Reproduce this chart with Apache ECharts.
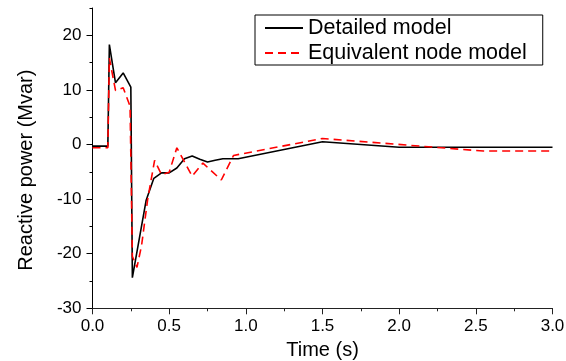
<!DOCTYPE html>
<html>
<head>
<meta charset="utf-8">
<script src="https://cdn.jsdelivr.net/npm/echarts@6/dist/echarts.min.js"></script>
<style>
html,body{margin:0;padding:0;background:#fff;}
#chart{width:566px;height:361px;}
</style>
</head>
<body>
<div id="chart"></div>
<script>
// Detailed model (black solid)
const detailedTime  = [0, 0.1, 0.11, 0.15, 0.2, 0.25, 0.26, 0.35, 0.4, 0.45, 0.5, 0.55, 0.6, 0.65, 0.7, 0.75, 0.8, 0.85, 0.95, 1.5, 2.0, 3.0];
const detailedValue = [-0.3, -0.3, 18.3, 11.3, 13.1, 10.5, -24.4, -10.2, -6.2, -5.2, -5.2, -4.3, -2.6, -2.1, -2.7, -3.2, -2.9, -2.6, -2.6, 0.5, -0.5, -0.5];
// Equivalent node model (red dashed)
const equivTime  = [0, 0.1, 0.11, 0.15, 0.2, 0.245, 0.26, 0.29, 0.32, 0.36, 0.405, 0.45, 0.5, 0.55, 0.65, 0.72, 0.84, 0.92, 1.5, 2.55, 3.0];
const equivValue = [-0.6, -0.6, 15.8, 9.9, 10.4, 7.0, -20.5, -22.5, -18.5, -10.0, -2.9, -5.5, -5.1, -0.6, -5.8, -3.4, -6.5, -2.0, 1.1, -1.2, -1.2];

const seriesNames = ['Detailed model', 'Equivalent node model'];
const yTickLabels = [-30, -20, -10, 0, 10, 20];
const xTickLabels = [0, 0.5, 1.0, 1.5, 2.0, 2.5, 3.0];

const pairs = (t, v) => t.map((x, i) => [x, v[i]]);
const FONT = 'Liberation Sans, Arial, Helvetica, sans-serif';

const chart = echarts.init(document.getElementById('chart'), null, {renderer: 'canvas'});
chart.setOption({
  animation: false,
  backgroundColor: '#fff',
  grid: {left: 92.5, right: 13.5, top: 8, bottom: 52.7, containLabel: false, outerBoundsMode: 'none'},
  legend: {
    orient: 'vertical',
    left: 255, top: 15,
    padding: [1, 16, 0, 9],
    itemGap: 1,
    itemWidth: 38, itemHeight: 14,
    borderColor: '#000', borderWidth: 1,
    itemStyle: {opacity: 0},
    textStyle: {fontFamily: FONT, fontSize: 21.5, color: '#000', lineHeight: 24},
    data: seriesNames
  },
  xAxis: {
    type: 'value', min: 0, max: 3, interval: 0.5,
    name: 'Time (s)', nameLocation: 'middle', nameGap: 27,
    nameTextStyle: {fontFamily: FONT, fontSize: 20, color: '#000'},
    axisLine: {show: true, onZero: false, lineStyle: {color: '#222', width: 1}},
    axisTick: {show: true, length: 6, lineStyle: {color: '#222'}},
    minorTick: {show: true, splitNumber: 2, length: 3, lineStyle: {color: '#222'}},
    axisLabel: {fontFamily: FONT, fontSize: 17, color: '#000', margin: 10,
      customValues: xTickLabels, formatter: v => Number(v).toFixed(1)},
    splitLine: {show: false}
  },
  yAxis: [{
    type: 'value', min: -30, max: 25, interval: 5, position: 'left',
    name: 'Reactive power (Mvar)', nameLocation: 'middle', nameGap: 56,
    nameTextStyle: {fontFamily: FONT, fontSize: 20, color: '#000', padding: [0, 24, 0, 0]},
    axisLine: {show: true, onZero: false, lineStyle: {color: '#000', width: 1}},
    axisTick: {show: true, length: 3, lineStyle: {color: '#000'}},
    axisLabel: {fontFamily: FONT, fontSize: 17, color: '#000', margin: 11,
      customValues: yTickLabels, formatter: v => String(v)},
    splitLine: {show: false}
  }, {
    type: 'value', min: -30, max: 25, interval: 5, position: 'left', offset: 0,
    axisLine: {show: false, onZero: false},
    axisTick: {show: true, length: 6, customValues: yTickLabels, lineStyle: {color: '#000'}},
    axisLabel: {show: false},
    splitLine: {show: false}
  }],
  series: [{
    name: seriesNames[0], type: 'line', yAxisIndex: 0,
    data: pairs(detailedTime, detailedValue),
    symbol: 'none', color: '#000',
    lineStyle: {color: '#000', width: 1.6}
  }, {
    name: seriesNames[1], type: 'line', yAxisIndex: 0,
    data: pairs(equivTime, equivValue),
    symbol: 'none', color: '#ff0000',
    lineStyle: {color: '#ff0000', width: 1.6, type: [8, 5]}
  }]
});
</script>
</body>
</html>
